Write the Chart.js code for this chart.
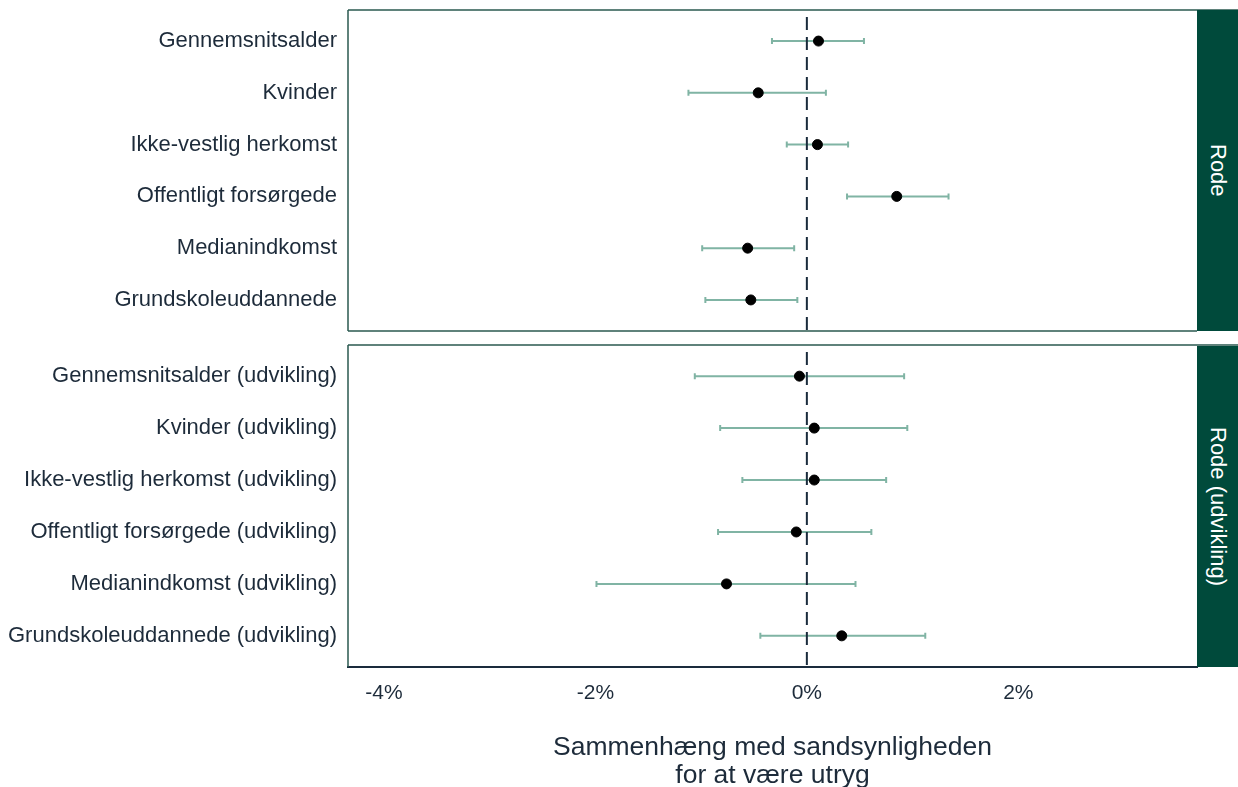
<!DOCTYPE html>
<html>
<head>
<meta charset="utf-8">
<script src="https://cdn.jsdelivr.net/npm/chart.js@4"></script>
<style>
  html, body { margin: 0; padding: 0; background: #fff; }
  body { width: 1238px; height: 787px; overflow: hidden; position: relative;
         font-family: "Liberation Sans", Arial, sans-serif; }
  .panel { position: absolute; left: 0; width: 1238px; }
  .strip { position: absolute; left: 1197px; width: 41px; background: #004a3b; color: #fff;
           font-size: 22px; display: flex; align-items: center; justify-content: center; }
  .strip span { writing-mode: vertical-rl; white-space: nowrap; }
</style>
</head>
<body>
<div class="panel" style="top:0;height:340px"><canvas id="levelChart" width="1238" height="340"></canvas></div>
<div class="panel" style="top:335px;height:454px"><canvas id="changeChart" width="1238" height="454"></canvas></div>
<div class="strip" style="top:10px;height:321px"><span>Rode</span></div>
<div class="strip" style="top:346px;height:321px"><span>Rode (udvikling)</span></div>

<script>
// Coefficients (percentage points) with 95% confidence intervals
const levelLabels = ['Gennemsnitsalder', 'Kvinder', 'Ikke-vestlig herkomst',
                     'Offentligt forsørgede', 'Medianindkomst', 'Grundskoleuddannede'];
const levelEst  = [0.11, -0.46, 0.10, 0.85, -0.56, -0.53];
const levelLow  = [-0.33, -1.12, -0.19, 0.38, -0.99, -0.96];
const levelHigh = [0.54, 0.18, 0.39, 1.34, -0.12, -0.09];

const changeLabels = ['Gennemsnitsalder (udvikling)', 'Kvinder (udvikling)',
                      'Ikke-vestlig herkomst (udvikling)', 'Offentligt forsørgede (udvikling)',
                      'Medianindkomst (udvikling)', 'Grundskoleuddannede (udvikling)'];
const changeEst  = [-0.07, 0.07, 0.07, -0.10, -0.76, 0.33];
const changeLow  = [-1.06, -0.82, -0.61, -0.84, -1.99, -0.44];
const changeHigh = [0.92, 0.95, 0.75, 0.61, 0.46, 1.12];

const xTicks = [-4, -2, 0, 2];
const xMin = -4.34, xMax = 3.69;

const TEXT = '#1d2b3a';
const BAR = '#80b4a4';
const FONT = '"Liberation Sans", Arial, sans-serif';

// Error bars and the dashed zero reference, drawn beneath the points
const intervalPlugin = {
  id: 'intervals',
  beforeDatasetsDraw(chart, args, opts) {
    const {ctx, chartArea, scales: {x, y}} = chart;
    ctx.save();
    ctx.strokeStyle = BAR;
    ctx.lineWidth = 2;
    opts.low.forEach((lo, i) => {
      const x1 = x.getPixelForValue(lo), x2 = x.getPixelForValue(opts.high[i]);
      const py = y.getPixelForValue(i);
      ctx.beginPath();
      ctx.moveTo(x1, py); ctx.lineTo(x2, py);
      ctx.moveTo(x1, py - 3); ctx.lineTo(x1, py + 3);
      ctx.moveTo(x2, py - 3); ctx.lineTo(x2, py + 3);
      ctx.stroke();
    });
    const zx = x.getPixelForValue(0);
    ctx.strokeStyle = '#1a2b3c';
    ctx.lineWidth = 2;
    ctx.setLineDash([13, 7]);
    ctx.beginPath();
    ctx.moveTo(zx, chartArea.top + 7);
    ctx.lineTo(zx, chartArea.bottom);
    ctx.stroke();
    ctx.restore();
  },
  afterDraw(chart, args, opts) {
    const {ctx, chartArea: a} = chart;
    ctx.save();
    ctx.strokeStyle = '#2b5a50';
    ctx.lineWidth = 1.5;
    ctx.beginPath();
    ctx.moveTo(a.left, a.top); ctx.lineTo(1238, a.top);
    ctx.moveTo(a.left, a.top); ctx.lineTo(a.left, a.bottom);
    if (opts.boxBottom) { ctx.moveTo(a.left, a.bottom); ctx.lineTo(a.right, a.bottom); }
    ctx.stroke();
    ctx.restore();
  }
};

function makeChart(id, labels, est, low, high, withAxis) {
  return new Chart(document.getElementById(id), {
    type: 'scatter',
    data: {
      datasets: [{
        data: est.map((v, i) => ({x: v, y: i})),
        backgroundColor: '#000',
        borderColor: '#000',
        pointRadius: 5,
        pointHoverRadius: 5
      }]
    },
    options: {
      responsive: false,
      animation: false,
      events: [],
      layout: { padding: { top: 10, right: 41, bottom: withAxis ? 0 : 9, left: 0 } },
      plugins: {
        legend: { display: false },
        tooltip: { enabled: false },
        intervals: { low, high, boxBottom: !withAxis }
      },
      scales: {
        x: {
          type: 'linear',
          min: xMin, max: xMax,
          display: withAxis,
          afterBuildTicks(scale) { scale.ticks = xTicks.map(v => ({value: v})); },
          afterFit(scale) {
            scale.height = withAxis ? 122 : 0;
            scale.paddingLeft = 0; scale.paddingRight = 0;
          },
          grid: { display: false, drawOnChartArea: false, drawTicks: true, tickLength: 6,
                  tickColor: '#1a2b3c', tickWidth: 1.5 },
          border: { display: true, color: '#1a2b3c', width: 2 },
          ticks: {
            color: TEXT, padding: 8,
            font: { family: FONT, size: 21 },
            callback: v => v + '%'
          },
          title: {
            display: true,
            text: ['Sammenhæng med sandsynligheden', 'for at være utryg'],
            color: TEXT,
            font: { family: FONT, size: 26.5, lineHeight: 1.03 },
            padding: { top: 0, bottom: 0 }
          }
        },
        y: {
          type: 'linear',
          min: -0.6, max: 5.6,
          reverse: true,
          afterBuildTicks(scale) { scale.ticks = labels.map((_, i) => ({value: i})); },
          afterFit(scale) {
            scale.width = 348;
            scale.paddingTop = 0; scale.paddingBottom = 0;
          },
          grid: { display: false, drawTicks: false },
          border: { display: false },
          ticks: {
            color: TEXT, padding: 11,
            font: { family: FONT, size: 22 },
            callback: v => labels[v]
          }
        }
      }
    },
    plugins: [intervalPlugin]
  });
}

makeChart('levelChart', levelLabels, levelEst, levelLow, levelHigh, false);
makeChart('changeChart', changeLabels, changeEst, changeLow, changeHigh, true);
</script>
</body>
</html>
